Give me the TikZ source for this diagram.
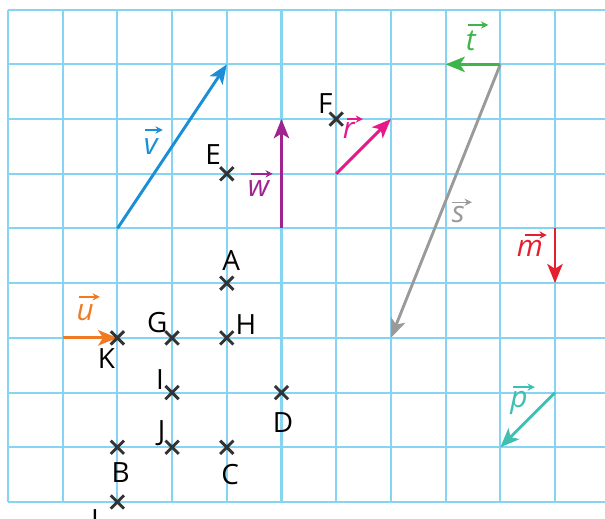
\documentclass[tikz,border=0pt]{standalone}
\usepackage{fontspec}
\setmainfont{Open Sans}
\usetikzlibrary{arrows.meta,shapes.misc}
\definecolor{gridc}{HTML}{84D4F2}
\definecolor{vblue}{HTML}{1B8FD6}
\definecolor{wpurple}{HTML}{A0248F}
\definecolor{rpink}{HTML}{E6198A}
\definecolor{tgreen}{HTML}{3DB54A}
\definecolor{sgray}{HTML}{9A9A9A}
\definecolor{mred}{HTML}{E5202E}
\definecolor{pteal}{HTML}{3FBFB0}
\definecolor{uorange}{HTML}{F07A22}
\definecolor{crossc}{HTML}{333333}
\begin{document}
\begin{tikzpicture}[x=1cm,y=1cm,
  gridl/.style={gridc, line width=1.05pt},
  vecarrow/.style={line width=1.5pt, -{Stealth[length=10pt,width=8pt,inset=2.5pt]}},
  ptlab/.style={font=\fontsize{14.5}{14.5}\selectfont, inner sep=0pt, text=black},
  vlab/.style={font=\fontsize{15.5}{15.5}\selectfont\itshape, inner sep=0pt, text height=1ex, text depth=0pt},
  vmark/.style={line width=0.75pt, -{Stealth[length=3.8pt,width=3.8pt]}},
  xpt/.style={cross out, draw=crossc, line width=1.5pt, minimum size=0.19cm, inner sep=0pt}]
\useasboundingbox (-0.146,-0.293) rectangle (10.914,9.177);
% grid
\foreach \i in {0,...,10} \draw[gridl] (\i,0) -- (\i,9);
\foreach \j in {0,...,9} \draw[gridl] (0,\j) -- (10.914,\j);
% grid coordinates used by vectors
\coordinate (v0) at (2,5); \coordinate (v1) at (4,8);
\coordinate (w0) at (5,5); \coordinate (w1) at (5,7);
\coordinate (r0) at (6,6); \coordinate (r1) at (7,7);
\coordinate (t0) at (9,8); \coordinate (t1) at (8,8);
\coordinate (s0) at (9,8); \coordinate (s1) at (7,3);
\coordinate (m0) at (10,5); \coordinate (m1) at (10,4);
\coordinate (p0) at (10,2); \coordinate (p1) at (9,1);
\coordinate (u0) at (1,3); \coordinate (u1) at (2,3);
% vectors
\draw[vecarrow, sgray] (s0) -- (s1);
\draw[vecarrow, tgreen] (t0) -- (t1);
\draw[vecarrow, vblue] (v0) -- (v1);
\draw[vecarrow, wpurple] (w0) -- (w1);
\draw[vecarrow, rpink] (r0) -- (r1);
\draw[vecarrow, mred] (m0) -- (m1);
\draw[vecarrow, pteal] (p0) -- (p1);
\draw[vecarrow, uorange] (u0) -- (u1);
% vector labels
\node[vlab, text=vblue] (lv) at (2.61,6.45) {v};
\draw[vmark, vblue] ([shift={(-0.11,0.35)}]lv.center) -- ++(0.33,0);
\node[vlab, text=wpurple] (lw) at (4.58,5.68) {w};
\draw[vmark, wpurple] ([shift={(-0.14,0.32)}]lw.center) -- ++(0.40,0);
\node[vlab, text=rpink] (lr) at (6.23,6.74) {r};
\draw[vmark, rpink] ([shift={(-0.03,0.26)}]lr.center) -- ++(0.29,0);
\node[vlab, text=tgreen] (lt) at (8.46,8.34) {t};
\draw[vmark, tgreen] ([shift={(-0.05,0.38)}]lt.center) -- ++(0.37,0);
\node[vlab, text=sgray] (ls) at (8.23,5.21) {s};
\draw[vmark, sgray] ([shift={(-0.11,0.27)}]ls.center) -- ++(0.36,0);
\node[vlab, text=mred] (lm) at (9.54,4.59) {m};
\draw[vmark, mred] ([shift={(-0.09,0.29)}]lm.center) -- ++(0.40,0);
\node[vlab, text=uorange] (lu) at (1.41,3.42) {u};
\draw[vmark, uorange] ([shift={(-0.11,0.33)}]lu.center) -- ++(0.38,0);
\node[vlab, text=pteal] (lp) at (9.34,1.82) {p};
\draw[vmark, pteal] ([shift={(-0.11,0.28)}]lp.center) -- ++(0.40,0);
% points
\node[xpt] (pE) at (4,6) {};
\node[xpt] (pF) at (6,7) {};
\node[xpt] (pA) at (4,4) {};
\node[xpt] (pG) at (3,3) {};
\node[xpt] (pH) at (4,3) {};
\node[xpt] (pK) at (2,3) {};
\node[xpt] (pI) at (3,2) {};
\node[xpt] (pD) at (5,2) {};
\node[xpt] (pJ) at (3,1) {};
\node[xpt] (pB) at (2,1) {};
\node[xpt] (pC) at (4,1) {};
\node[xpt] (pL) at (2,0) {};
% point labels
\node[ptlab] (tE) at (3.75,6.36) {E};
\node[ptlab] (tF) at (5.80,7.28) {F};
\node[ptlab] (tA) at (4.08,4.42) {A};
\node[ptlab] (tG) at (2.73,3.28) {G};
\node[ptlab] (tH) at (4.35,3.25) {H};
\node[ptlab] (tK) at (1.80,2.63) {K};
\node[ptlab] (tI) at (2.78,2.23) {I};
\node[ptlab] (tD) at (5.03,1.46) {D};
\node[ptlab] (tJ) at (2.81,1.25) {J};
\node[ptlab] (tB) at (2.06,0.53) {B};
\node[ptlab] (tC) at (4.06,0.51) {C};
\node[ptlab] (tL) at (1.65,-0.33) {L};
\end{tikzpicture}
\end{document}
